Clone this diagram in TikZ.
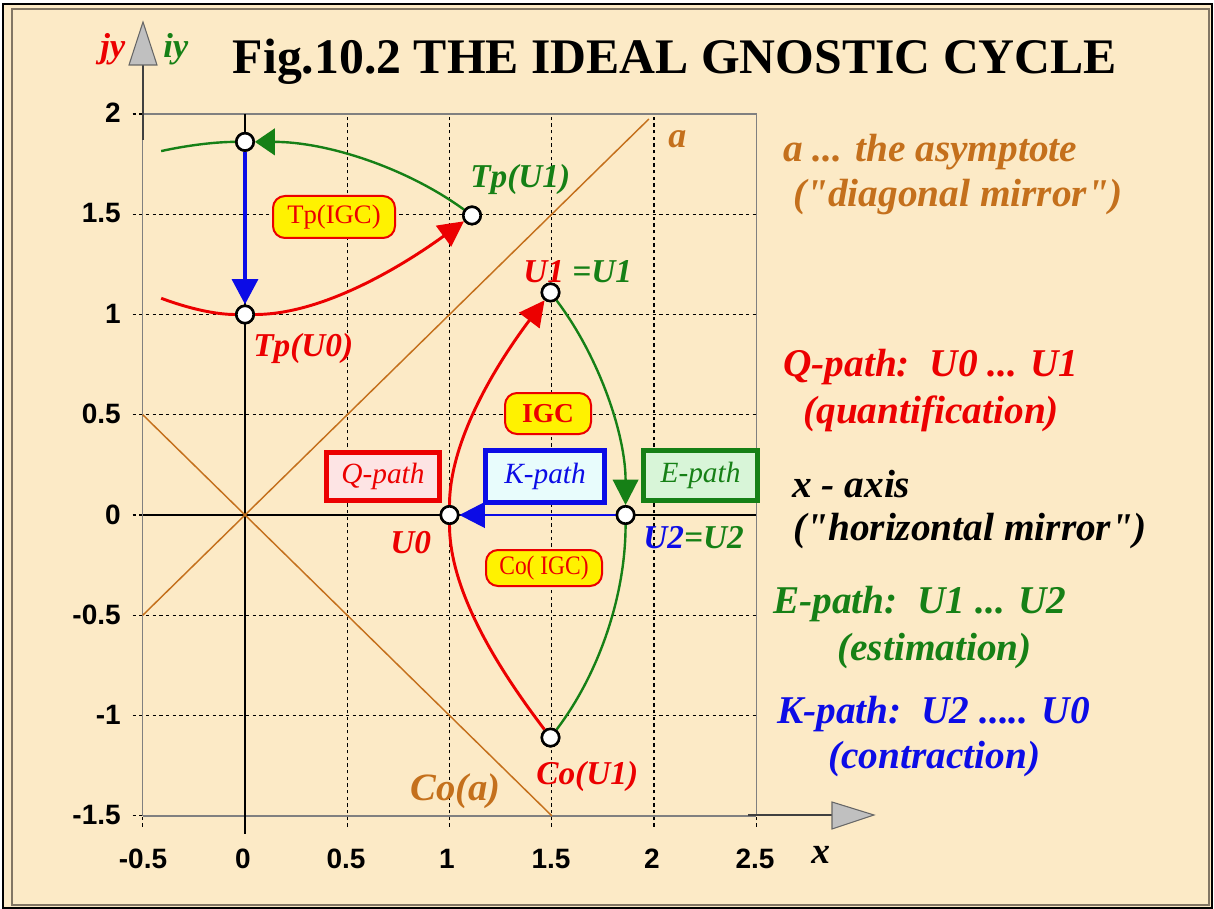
\documentclass[tikz,border=0pt]{standalone}
\usepackage{fontspec}
\setmainfont{Liberation Serif}
\setsansfont{Liberation Sans}
\usetikzlibrary{arrows.meta}
\definecolor{bgc}{RGB}{252,234,198}
\definecolor{brn}{RGB}{196,112,28}
\definecolor{myred}{RGB}{236,0,0}
\definecolor{mygreen}{RGB}{22,128,22}
\definecolor{myblue}{RGB}{12,12,230}
\definecolor{axgray}{RGB}{192,192,192}
\definecolor{framec}{RGB}{130,118,100}
\definecolor{qfill}{RGB}{253,228,228}
\definecolor{kfill}{RGB}{232,252,252}
\definecolor{efill}{RGB}{216,245,216}
\newcommand\legf{\fontsize{29.5}{32}\selectfont\bfseries\itshape}
\newcommand\ptf{\fontsize{25}{28}\selectfont\bfseries\itshape}
\newcommand\tickf{\fontsize{21}{22}\selectfont\sffamily\bfseries}
\newcommand\boxf{\fontsize{20}{22}\selectfont}
\newcommand\pathf{\fontsize{22}{24}\selectfont\itshape}
\newcommand\dq{\textquotedbl}
\tikzset{
  ptn/.style={circle, draw=black, fill=white, line width=1.9pt, inner sep=0pt, minimum size=13pt},
  gridl/.style={black, line width=0.8pt, dash pattern=on 2.5pt off 2.5pt},
  tip/.style={-{Triangle[length=19pt,width=19pt]}},
  smalltip/.style={-{Triangle[length=15pt,width=20pt]}},
  qline/.style={myred, line width=2.2pt},
  eline/.style={mygreen, line width=1.8pt},
  ybox/.style={draw=myred, line width=1.5pt, fill=yellow, text=myred, rounded corners=9pt, inner sep=0pt, font=\boxf},
  pbox/.style={line width=3.75pt, inner sep=0pt, font=\pathf},
  leg/.style={anchor=base west, inner sep=0pt, font=\legf},
  lab/.style={anchor=base west, inner sep=0pt, font=\ptf},
  tickx/.style={anchor=base, inner sep=0pt, font=\tickf},
  ticky/.style={anchor=east, inner sep=0pt, font=\tickf}
}
\begin{document}
\begin{tikzpicture}[x=0.75pt, y=-0.75pt]
% page and frame
\fill[white] (0,0) rectangle (1214,909);
\fill[bgc] (3,4) rectangle (1212,908);
\draw[black, line width=0.8pt] (3,4) rectangle (1212,908);
\draw[framec, line width=1.5pt] (12,9) rectangle (1209,905);
\useasboundingbox (0,0) rectangle (1214,909);

\begin{scope}[shift={(245,515)}, x=153.375pt, y=150.375pt]
  % grid
  \foreach \gx in {0.5,1,1.5,2} \draw[gridl] (\gx,-1.555) -- (\gx,2);
  \foreach \gx in {-0.5,2.5} \draw[gridl] (\gx,-1.555) -- (\gx,-1.5);
  \foreach \gy in {-1,-0.5,0.5,1,1.5} \draw[gridl] (-0.55,\gy) -- (2.5,\gy);
  \foreach \gy in {-1.5,0,2} \draw[gridl] (-0.55,\gy) -- (-0.5,\gy);
  % plot border
  \draw[gray, line width=0.8pt] (-0.5,-1.5) rectangle (2.5,2);
  \draw[gray, line width=1.6pt] (-0.5,-1.5) -- (2.5,-1.5);
  % main axes lines
  \draw[black, line width=1.5pt] (0,2) -- (0,-1.59);
  \draw[black, line width=1.3pt] (-0.5,0) -- (2.5,0);
  % asymptotes
  \draw[brn, line width=1.1pt] (-0.5,-0.5) -- (1.975,1.975);
  \draw[brn, line width=1.1pt] (-0.5,0.5) -- (1.5,-1.5);
  % points
  \node[ptn] (U0) at (1,0) {};
  \node[ptn] (U1) at (1.494,1.11) {};
  \node[ptn] (U2) at (1.861,0) {};
  \node[ptn] (CoU1) at (1.494,-1.11) {};
  \node[ptn] (TpU1) at (1.11,1.494) {};
  \node[ptn] (TpU0) at (0,1) {};
  \node[ptn] (T2) at (0,1.861) {};
  \coordinate (L1) at (-0.41,1.081);
  \coordinate (L2) at (-0.41,1.815);
\end{scope}

% curves
\begin{scope}[shift={(245,515)}, x=153.375pt, y=150.375pt]
  \draw[qline, tip] (U0) .. controls +(90:0.41) and +(233.4:0.35) .. (U1);
  \draw[qline] (U0) .. controls +(-90:0.41) and +(126.6:0.35) .. (CoU1);
  \draw[eline, tip] (U1) .. controls +(-53.4:0.40) and +(90:0.40) .. (U2);
  \draw[eline] (U2) .. controls +(-90:0.40) and +(53.4:0.40) .. (CoU1);
  \draw[qline] (L1) .. controls +(-20.8:0.145) and +(180:0.145) .. (TpU0);
  \draw[qline, tip] (TpU0) .. controls +(0:0.41) and +(216.6:0.35) .. (TpU1);
  \draw[eline, smalltip] (TpU1) .. controls +(143.4:0.40) and +(0:0.40) .. (T2);
  \draw[eline] (T2) .. controls +(180:0.1377) and +(12.7:0.1377) .. (L2);
  \draw[myblue, line width=3.6pt, tip] (T2) -- (TpU0);
  \draw[myblue, line width=2pt, tip] (U2) -- (U0);
  % redraw the points on top
  \foreach \p in {U0,U1,U2,CoU1,TpU1,TpU0,T2}
    \node[ptn] at (\p.center) {};
\end{scope}

% decorative axis arrows
\draw[black!75, line width=1.3pt] (143,140) -- (143,65);
\filldraw[fill=axgray, draw=black!60, line width=0.8pt] (129,65) -- (157,65) -- (143,22) -- cycle;
\draw[black!75, line width=1.3pt] (748,815) -- (832,815);
\filldraw[fill=axgray, draw=black!60, line width=0.8pt] (832,802) -- (832,829) -- (874,815) -- cycle;

% tick labels
\node[ticky] (y1) at (121,113) {2};
\node[ticky] (y2) at (121,213) {1.5};
\node[ticky] (y3) at (121,314) {1};
\node[ticky] (y4) at (121,414) {0.5};
\node[ticky] (y5) at (121,515) {0};
\node[ticky] (y6) at (121,615) {-0.5};
\node[ticky] (y7) at (121,715) {-1};
\node[ticky] (y8) at (121,815) {-1.5};
\node[tickx] (x1) at (143,868) {-0.5};
\node[tickx] (x2) at (243,868) {0};
\node[tickx] (x3) at (346,868) {0.5};
\node[tickx] (x4) at (447,868) {1};
\node[tickx] (x5) at (551,868) {1.5};
\node[tickx] (x6) at (652,868) {2};
\node[tickx] (x7) at (755,868) {2.5};
\node[anchor=base west, inner sep=0pt, font=\fontsize{28}{30}\selectfont\bfseries\itshape] (xl) at (811,863) {x};
\node[anchor=base west, inner sep=0pt, font=\fontsize{26}{28}\selectfont\bfseries\itshape, text=myred] (jy) at (100,58) {jy};
\node[anchor=base west, inner sep=0pt, font=\fontsize{26}{28}\selectfont\bfseries\itshape, text=mygreen] (iy) at (163,58) {iy};

% title
\node[anchor=base, inner sep=0pt, font=\fontsize{37.3}{40}\selectfont\bfseries] (title) at (675,74) {Fig.10.2 THE IDEAL GNOSTIC CYCLE};

% point labels
\node[lab] (lU1) at (523,283) {\textcolor{myred}{U1} \textcolor{mygreen}{=U1}};
\node[lab, text=myred] (lU0) at (390,553) {U0};
\node[lab] (lU2) at (643,548) {\textcolor{myblue}{U2}\textcolor{mygreen}{=U2}};
\node[lab, text=mygreen] (lTpU1) at (470,188) {Tp(U1)};
\node[lab, text=myred] (lTpU0) at (253,357) {Tp(U0)};
\node[lab, text=myred] (lCoU1) at (536,784) {Co(U1)};
\node[anchor=base west, inner sep=0pt, font=\fontsize{29}{30}\selectfont\bfseries\itshape, text=brn] (lCoa) at (410,800) {Co(a)};
\node[anchor=base west, inner sep=0pt, font=\fontsize{27}{30}\selectfont\bfseries\itshape, text=brn] (la) at (668,148) {a};

% boxes
\node[ybox, minimum width=91.5pt, minimum height=31.5pt] (btp) at (334,217) {Tp(IGC)};
\node[ybox, minimum width=64.5pt, minimum height=30.75pt, font=\fontsize{20.5}{22}\selectfont\bfseries] (bigc) at (548,413.5) {IGC};
\node[ybox, minimum width=87pt, minimum height=27pt] (bco) at (544,568) {\scalebox{0.88}[1]{Co( IGC)}};
\node[pbox, draw=myred, fill=qfill, text=myred, minimum width=84.75pt, minimum height=36pt] (bq) at (383,476.5) {Q-path};
\node[pbox, draw=myblue, fill=kfill, text=myblue, minimum width=89pt, minimum height=39pt] (bk) at (545,476.5) {K-path};
\node[pbox, draw=mygreen, fill=efill, text=mygreen, minimum width=85.5pt, minimum height=37.5pt] (be) at (700.5,475.5) {E-path};

% legend
\node[leg, text=brn] (g1) at (783,162) {a ... the asymptote};
\node[leg, text=brn] (g2) at (793,207) {(\dq diagonal mirror\dq)};
\node[leg, text=myred] (g3) at (783,377) {Q-path:\ \ U0 ... U1};
\node[leg, text=myred] (g4) at (803,423) {(quantification)};
\node[leg, text=black] (g5) at (792,497) {x - axis};
\node[leg, text=black] (g6) at (793,540) {(\dq horizontal mirror\dq)};
\node[leg, text=mygreen] (g7) at (773,613) {E-path:\ \ U1 ... U2};
\node[leg, text=mygreen] (g8) at (837,660) {(estimation)};
\node[leg, text=myblue] (g9) at (777,723) {K-path:\ \ U2 ..... U0};
\node[leg, text=myblue] (g10) at (828,768) {(contraction)};
\end{tikzpicture}
\end{document}
